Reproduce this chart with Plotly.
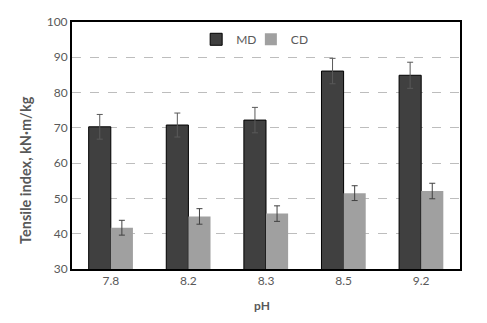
import plotly.graph_objects as go

# pH levels and tensile index (mean ± standard deviation)
ph_labels = ["7.8", "8.2", "8.3", "8.5", "9.2"]
md_values = [70.3, 70.8, 72.2, 86.1, 84.9]
md_errors = [3.5, 3.4, 3.6, 3.6, 3.7]
cd_values = [41.7, 44.9, 45.7, 51.5, 52.1]
cd_errors = [2.1, 2.2, 2.2, 2.1, 2.2]

tick_color = "#595959"
font_family = "Lato, 'Open Sans', sans-serif"

fig = go.Figure()
fig.add_trace(go.Bar(
    name="MD", x=ph_labels, y=md_values, legend="legend",
    marker=dict(color="#404040", line=dict(color="#000000", width=1)),
    error_y=dict(type="data", array=md_errors, color="#595959", thickness=1, width=3),
))
fig.add_trace(go.Bar(
    name="CD", x=ph_labels, y=cd_values, legend="legend2",
    marker=dict(color="#a0a0a0", line=dict(width=0)),
    error_y=dict(type="data", array=cd_errors, color="#404040", thickness=1, width=3),
))

legend_style = dict(
    orientation="h", yanchor="middle", xanchor="left", y=0.93,
    font=dict(size=12, color=tick_color), bgcolor="rgba(0,0,0,0)", itemwidth=30,
)

fig.update_layout(
    width=487, height=323,
    margin=dict(l=72, r=27, t=22, b=54),
    paper_bgcolor="white", plot_bgcolor="white",
    barmode="group", bargap=0.43, bargroupgap=0,
    font=dict(family=font_family, size=12, color=tick_color),
    showlegend=True,
    legend=dict(x=0.320, **legend_style),
    legend2=dict(x=0.461, **legend_style),
    xaxis=dict(
        showline=True, linecolor="#000000", linewidth=2, mirror=True,
        showgrid=False, ticks="", tickfont=dict(size=12, color=tick_color),
    ),
    yaxis=dict(
        range=[30, 100], dtick=10, tick0=30,
        showline=True, linecolor="#000000", linewidth=2, mirror=True,
        showgrid=True, gridcolor="#bdbdbd", griddash="dash", gridwidth=1,
        zeroline=False, ticks="", tickfont=dict(size=12, color=tick_color),
    ),
    annotations=[
        dict(text="<b>Tensile index, kN·m/kg</b>", textangle=-90,
             xref="paper", yref="paper", x=-0.1186, y=0.401,
             xanchor="center", yanchor="middle", showarrow=False,
             font=dict(size=14.5, color=tick_color)),
        dict(text="<b>pH</b>", xref="paper", yref="paper", x=0.49, y=-0.146,
             xanchor="center", yanchor="middle", showarrow=False,
             font=dict(size=12, color=tick_color)),
    ],
)

fig.write_html("out.html")
